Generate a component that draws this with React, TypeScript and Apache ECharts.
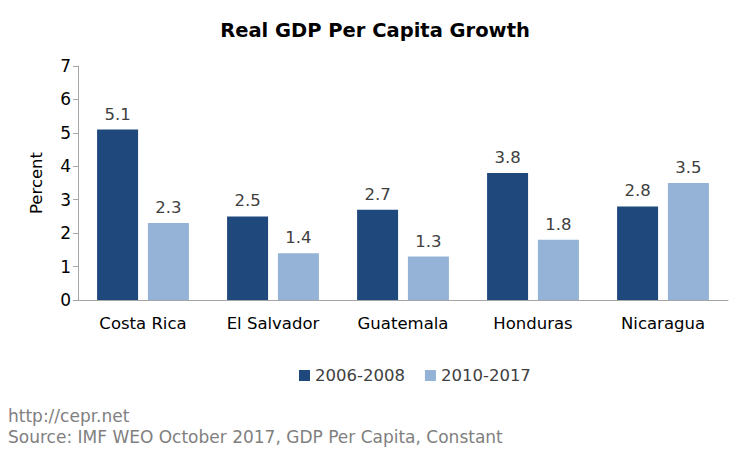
import React, { useEffect, useRef } from "react";
import * as echarts from "echarts";

const categories = ["Costa Rica", "El Salvador", "Guatemala", "Honduras", "Nicaragua"];
const series2006 = [5.1, 2.5, 2.7, 3.8, 2.8];
const series2010 = [2.3, 1.4, 1.3, 1.8, 3.5];
const seriesNames = ["2006-2008", "2010-2017"];
const titleText = "Real GDP Per Capita Growth";
const footerLines = ["http://cepr.net", "Source: IMF WEO October 2017, GDP Per Capita, Constant"];

const FONT = "Verdana, 'DejaVu Sans', sans-serif";

export default function App() {
  const ref = useRef<HTMLDivElement>(null);
  useEffect(() => {
    if (!ref.current) return;
    const chart = echarts.init(ref.current, undefined, { renderer: "svg" });
    const label = {
      show: true,
      position: "top" as const,
      distance: 7,
      color: "#404040",
      fontSize: 16.5,
      fontFamily: FONT,
      formatter: (p: any) => Number(p.value).toFixed(1),
    };
    chart.setOption({
      animation: false,
      backgroundColor: "#ffffff",
      title: {
        text: titleText,
        left: "center",
        top: 15,
        textStyle: { fontFamily: FONT, fontSize: 19.5, fontWeight: "bold", color: "#000000" },
      },
      grid: { left: 78, right: 22, top: 66, bottom: 150, containLabel: false },
      legend: {
        data: seriesNames,
        bottom: 61,
        left: 294,
        itemWidth: 11,
        itemHeight: 11,
        itemGap: 20,
        icon: "rect",
        textStyle: { fontFamily: FONT, fontSize: 16.5, color: "#404040" },
      },
      graphic: footerLines.map((t, i) => ({
        type: "text",
        left: 8,
        top: 407 + i * 21,
        style: { text: t, fontFamily: FONT, fontSize: 17, fill: "#808080" },
      })),
      xAxis: {
        type: "category",
        data: categories,
        axisLine: { lineStyle: { color: "#A6A6A6" } },
        axisTick: { show: false },
        axisLabel: { fontFamily: FONT, fontSize: 16.5, color: "#000000", margin: 15 },
      },
      yAxis: {
        type: "value",
        min: 0,
        max: 7,
        interval: 1,
        name: "Percent",
        nameLocation: "middle",
        nameGap: 33,
        nameTextStyle: { fontFamily: FONT, fontSize: 16.5, color: "#000000" },
        axisLine: { show: true, lineStyle: { color: "#A6A6A6" } },
        axisTick: { show: true, length: 5, lineStyle: { color: "#A6A6A6" } },
        splitLine: { show: false },
        axisLabel: { fontFamily: FONT, fontSize: 17, color: "#000000", margin: 7 },
      },
      series: [
        {
          name: seriesNames[0],
          type: "bar",
          data: series2006,
          barWidth: 41,
          barGap: "24%",
          itemStyle: { color: "#1F497D" },
          label,
        },
        {
          name: seriesNames[1],
          type: "bar",
          data: series2010,
          barWidth: 41,
          itemStyle: { color: "#95B3D7" },
          label,
        },
      ],
    });
    return () => chart.dispose();
  }, []);
  return <div ref={ref} style={{ width: 750, height: 450, position: "absolute", left: 0, top: 0 }} />;
}
